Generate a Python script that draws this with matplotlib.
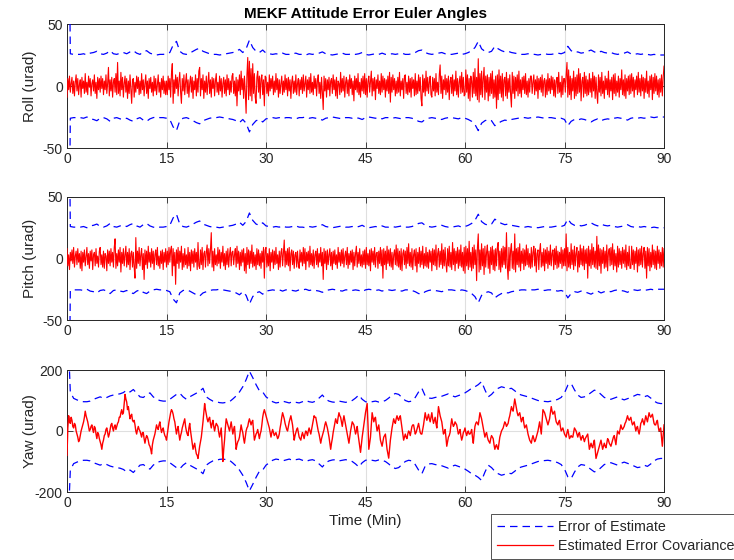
import numpy as np
import matplotlib
matplotlib.use("Agg")
import matplotlib.pyplot as plt
from matplotlib.lines import Line2D

# ---------------- data ----------------
title = "MEKF Attitude Error Euler Angles"
ylabels = ["Roll (urad)", "Pitch (urad)", "Yaw (urad)"]
xlabel = "Time (Min)"
legend_labels = ["Error of Estimate", "Estimated Error Covariance"]
xticks = [0, 15, 30, 45, 60, 75, 90]
yticks_rp = [-50, 0, 50]
yticks_yaw = [-200, 0, 200]

# roll / pitch / yaw attitude error samples, every 0.125 min from 0 to 90
roll_err = [
    -9, 6, -3, 8, -5, 2, 7, -6, 4, -8, 3, 9, -4, 6, -7, 1, 5, -9, 7, -2, 4, -6, 10, -5, 3, -7, 8, -1, 6, -8, 2, 5, -4, 9, -6, 3, -10, 7, -3, 6,
    -5, 8, -2, 6, -7, 4, -3, 9, -6, 2, 15, -8, 5, -4, 7, -9, 3, 6, -5, 10, -7, 19, -6, 4, -8, 11, -3, 7, -9, 2, 8, -5, 6, -10, 4, -6, 9, -2, -14, 5,
    6, -9, 3, -5, 8, -2, 7, -7, 4, -6, 10, -3, 5, -8, 2, 9, -6, 4, -10, 6, -2, 7, -5, 3, -8, 8, -4, 6, -7, 1, 9, -5, 3, -9, 6, -3, 8, -6, 4, -7,
    4, -7, 8, -3, 6, -9, 10, 18, -14, 5, -6, 9, -2, 7, -8, 4, 11, -5, -14, 6, -4, 9, -7, 3, 10, -6, 5, -9, 2, 8, -5, 7, -10, 4, -3, 9, -8, 6, -5, 12,
    15, -8, 6, -3, 9, -10, 4, -5, 8, -7, 3, 11, -6, 5, -9, 7, -2, 6, -8, 4, 10, -5, 3, -7, 8, -4, 6, -9, 2, 7, -6, 5, -8, 9, -3, 6, -7, 4, -5, 8,
    10, -6, 4, -8, 7, -16, 5, -4, 9, -7, 12, -3, 6, -10, 8, -5, -22, 9, 23, -11, 20, -8, 14, -12, 18, -6, 10, -9, -14, 7, 12, -5, 8, -10, 6, 9, -7, 5, -16, 8,
    7, -6, 3, -8, 9, -4, 6, -2, 8, -7, 4, -5, 10, -3, 6, -9, 5, -6, 2, 8, -7, 4, -5, 9, -3, 6, -8, 7, -4, 5, -10, 3, 8, -6, 4, -5, 9, -7, 2, 6,
    -8, 5, -3, 7, -6, 9, -4, 2, 8, -9, 5, -3, 7, -6, 10, -5, 3, -7, 8, -2, 6, -8, 4, 9, -6, 3, -10, 7, -5, -19, 8, -4, 6, -9, 5, -3, 7, -8, 4, 6,
    -6, 9, -3, 5, -8, 7, -10, 4, 2, -7, 11, -5, 6, -4, 8, -9, 3, 7, -6, 5, -8, 9, -2, 6, -7, 4, -12, 8, -3, 6, -5, 10, -7, 3, -9, 6, -4, 8, -6, 10,
    -7, 6, -9, 4, 8, -5, 3, 12, -8, 6, -4, 7, -11, 5, -2, 9, -6, 4, -7, 10, -5, 8, -3, 6, -9, 5, -4, 8, -6, 11, -13, 7, -5, 9, -3, 6, -8, 4, -6, 7,
    -5, 11, -8, 4, -3, 6, -10, 8, 9, -6, 3, -7, 8, -5, 6, -9, 7, -2, 5, -8, 10, -7, 4, -6, 9, -4, 7, -10, -16, 9, -5, 6, -8, 12, -4, 7, -6, 3, 8, -7,
    -9, 7, -4, 6, -8, 10, -5, 3, -7, 9, 17, -6, 8, -10, 5, -3, 9, -7, 6, -5, 8, -11, 4, 7, -6, 9, -8, 5, -4, 12, -7, 6, -9, 3, 8, -6, 11, -5, 7, -8,
    -7, 13, -5, 9, -10, 6, -12, 8, 4, -9, 11, -6, 14, -8, 7, -11, 22, -13, 10, -7, 12, -9, 6, 15, -11, 8, -5, 9, -12, 7, -8, 10, -6, 12, -10, 5, -9, 8, -18, 9,
    -11, 13, -6, 8, -9, 10, -12, 5, 7, -8, 11, -10, 6, -5, 9, -7, -17, 11, -6, 8, -10, 7, -4, 9, -8, 12, -6, 5, -9, 7, -3, 8, -6, 10, -7, 4, -9, 6, -5, 8,
    8, -6, 3, 9, -7, 5, -4, 8, -10, 6, -3, 7, -5, 9, -8, 4, 6, -9, 5, -7, 10, -4, 6, -6, 8, -3, 7, -8, 5, -9, 4, 7, -6, 11, -5, 3, -9, 8, -7, 6,
    6, -5, 9, 19, -9, 13, -7, 8, -11, 6, -4, 12, -10, 7, -8, 9, -6, 14, -5, 10, -12, 4, 7, -9, 11, -6, 8, -8, 5, -7, 10, -5, 6, -9, 11, -4, 8, -10, 7, -6,
    -14, 9, -5, 7, -8, 11, -6, 4, -10, 8, -3, 6, -7, 12, -9, 5, -4, 7, -11, 9, -6, 10, -8, 4, -5, 8, -9, 6, -3, 13, -7, 5, -8, 9, -10, 6, -4, 8, -7, 9,
    -6, 10, -4, 7, -9, 5, -3, 8, -7, 11, -5, 6, -8, 9, -4, 7, -10, 6, -5, 12, -6, 4, -9, 8, -3, 9, -11, 7, -6, 10, -4, 8, -7, 5, -9, 6, -5, 9, -8, 7,
    16,
]
pitch_err = [
    8, -6, 3, -9, 5, -2, 7, -4, 9, -7, 2, 6, -5, 8, -3, 4, -8, 6, -10, 5, -3, 7, -6, 2, 9, -5, 4, -8, 6, -2, 7, -9, 3, 5, -6, 8, -4, 2, -7, 6,
    9, -5, 3, -7, 6, -8, 4, 2, -10, 7, -4, 6, -6, 8, -3, 5, -7, 9, 16, -8, 4, -6, 7, -3, 9, -11, 5, -4, 8, -6, 3, 10, -7, 5, -5, 8, -9, 4, 6, -7,
    5, -7, -16, 17, -8, 6, -4, 9, -6, 3, 8, -9, 4, -17, 7, -5, 6, -8, 10, -3, 5, -7, 8, -4, 6, -9, 3, 7, -5, 9, -6, 2, -8, 6, -4, 7, -9, 5, -3, 8,
    -7, 6, -5, 9, -3, 7, 10, -14, 8, -6, 5, -21, 7, -4, 9, -8, 6, -3, 10, -9, 4, -7, 8, -5, 3, -8, 9, -6, 5, -10, 7, -4, 6, -7, 8, -3, 5, -9, 13, -6,
    -8, 7, -5, 9, -9, 4, 6, -7, 5, 11, -6, 8, -4, 7, 21, -7, 6, -10, 8, -5, 3, -6, 9, -4, 7, -8, 5, -3, 10, -6, 4, -9, 6, -5, 8, -7, 3, 9, -6, 5,
    6, -5, 3, 8, -7, 10, -4, 6, -9, 5, -6, 7, -3, 8, -10, 4, -12, 9, -5, 7, -8, 6, -4, 11, -7, 5, -6, 3, -9, 8, -5, 7, -6, 4, -8, 6, -3, 9, -16, 7,
    9, -7, 4, -6, 8, -10, 5, -3, 7, -8, 6, -5, 9, -4, 3, -9, 6, -7, 5, 8, -6, 4, 15, -7, 6, -5, 8, -6, 9, -10, 4, 7, -5, 6, -8, 3, 5, -7, 6, -4,
    -8, 7, -3, 5, -6, 9, -4, 8, -9, 5, -2, 6, -7, 10, -5, 4, -6, 7, -8, 3, 6, -5, 8, -7, 4, -3, 9, -6, 5, -17, 8, -4, 6, -9, 7, -5, 3, 8, -6, 5,
    -9, 6, -4, 7, -5, 3, -8, 9, -3, 5, -6, 7, -4, 8, -7, 2, 6, -5, 9, -8, 4, -5, 6, -3, 7, -9, 5, -6, 4, 10, -7, 5, -4, 8, -6, 3, -7, 6, -5, 7,
    -8, 9, -5, 4, -6, 7, -10, 8, -3, 6, -5, 9, -7, 4, 5, -8, 6, -4, 9, -6, 7, -16, 8, -5, 6, -9, 10, -4, 7, -6, 8, -7, 5, -9, 3, 7, -5, 11, -6, 8,
    -7, 6, -9, 8, -10, 4, 7, -5, 6, -8, 9, -4, 12, -6, 5, -7, 8, -9, 3, 7, -6, 8, -11, 5, -4, 9, -7, 6, -5, 10, -8, 4, -6, 9, -7, 5, -8, 7, -3, 6,
    -10, 8, -5, 7, -6, 11, -9, 4, 8, -7, 6, -5, 12, -8, 7, -6, 9, -4, -11, 8, -6, 10, -7, 5, -9, 13, -5, 8, -10, 6, -4, 9, -8, 7, -6, 11, -7, 5, -10, 9,
    -12, 10, -6, 8, -9, 14, -7, 5, -10, 9, -8, 11, -5, 7, -18, 9, 20, -11, 7, -9, 12, -6, 8, -13, 10, -7, 5, 11, -8, 6, -12, 9, -5, 10, -9, 7, -10, 8, -6, 9,
    13, -9, 6, -11, 8, -7, 10, -5, 9, -8, 21, -6, -17, 9, -10, 7, 12, -8, 6, -9, 20, -11, 8, -5, 9, -7, 12, -10, 6, -4, 8, -9, 7, -6, 11, -5, 8, -7, 4, -8,
    9, -7, 5, 10, -6, 8, -11, 4, 7, -9, 6, 12, -7, 5, -6, 8, -10, 7, -4, 9, -8, 6, -5, 11, -6, 4, 7, -9, 8, -5, 10, -8, 6, -7, 5, -4, 9, -8, 7, -6,
    8, -6, 20, -10, 9, -7, 5, -8, 12, -5, 7, -9, 10, -6, 4, 9, -11, 6, -7, 11, -5, 8, -6, 10, -9, 7, -4, 8, -16, 10, -6, 7, -8, 12, -5, 9, -7, 6, -8, 18,
    -9, 11, -6, 8, -12, 7, -4, 9, -8, 6, -7, 11, -10, 5, 8, -6, 9, -5, 12, -9, 7, -6, 4, -11, 10, -7, 8, -5, 6, -8, 9, -4, 7, -7, 11, -9, 5, -6, 10, -8,
    -8, 10, -5, 7, -9, 6, -4, 9, -11, 7, -6, 8, -5, 10, -7, 4, 9, -8, 6, -16, 9, -6, 8, -10, 5, -7, 11, -5, 7, -8, 6, -9, 10, -4, 7, -8, 5, -6, 9, -7,
    8,
]
yaw_err = [
    -80, 10, 50, 30, 25, 45, 35, 15, 10, 25, 20, 0, -10, -20, -35, -30, -15, 0, 10, 20, 30, 45, 65, 50, 40, 30, 15, 0, 5, 15, 20, 5, -5, 15, 10, -10, -25, -5, -10, -25,
    -35, -45, -60, -40, -30, -15, -10, 5, 10, -5, -20, -10, 5, 20, 25, 10, 0, 15, 20, 5, 15, 25, 30, 45, 45, 60, 70, 55, 60, 90, 120, 105, 95, 70, 80, 60, 40, 50, 55, 35,
    30, 35, 20, 0, -10, 5, 15, 5, 0, -10, -20, -5, -5, -25, -40, -25, -15, -20, -30, -45, -50, -60, -75, -45, -30, -20, -10, 5, 20, 10, 5, 20, 30, 10, -5, 5, 10, -5, -15, -20,
    -30, -10, 10, 30, 45, 60, 70, 65, 55, 40, 30, 10, -10, 5, 15, -10, -30, -15, -5, 10, 20, 30, 40, 15, 0, -10, -15, 10, 25, 0, -20, -40, -60, -50, -40, -60, -75, -80, -90, -70,
    -50, -35, -20, 5, 30, 60, 90, 70, 55, 40, 30, 40, 45, 25, 10, 25, 35, 15, 0, 15, 25, 20, 15, -5, -20, -5, 10, -40, -100, -60, -30, 10, 40, 30, 20, 10, 0, 15, 30, 10,
    -10, 5, 15, -25, -60, -45, -35, -30, -20, 0, 20, 5, -5, -25, -40, -20, 0, 10, 15, 30, 40, 30, 20, 30, 35, 0, -30, -20, -10, -5, 5, -10, -25, -10, 0, 20, 45, 60, 70, 60,
    50, 40, 30, 20, 10, -5, -20, -5, 5, -5, -15, -10, -5, -15, -25, -20, -10, 10, 25, 45, 60, 50, 40, 25, 15, 5, 0, 15, 30, 40, 50, 35, 20, -5, -30, -15, -5, 5, 10, -5,
    -20, -25, -30, -15, -5, -15, -25, -10, 0, -5, -15, 0, 10, 0, -10, 5, 20, 35, 50, 45, 45, 30, 15, 0, -10, -25, -40, -25, -15, -5, 5, 20, 30, 20, 10, -5, -20, -40, -60, -40,
    -25, -5, 10, 25, 40, 30, 25, 45, 60, 50, 45, 30, 15, 35, 50, 35, 20, 5, -10, -25, -40, -20, 0, 15, 30, 25, 20, 5, -10, 0, 15, -10, -30, -50, -70, -45, -20, 0, 20, 40,
    60, 75, 90, 20, -60, -40, -20, 20, 60, 45, 30, 40, 45, 20, 0, 10, 20, -5, -30, -40, -50, -35, -20, -15, -10, -35, -60, -75, -89, -60, -30, -10, 10, 25, 40, 30, 25, 40, 50, 40,
    35, 45, 50, 30, 10, -10, -30, -20, -10, -20, -25, -10, 0, -5, -15, 0, 15, 20, 20, 5, -10, -5, 5, 15, 25, 10, -5, -10, -10, 5, 20, 40, 60, 45, 35, 45, 55, 40, 30, 45,
    60, 40, 25, 35, 45, 25, 10, 45, 80, 65, 50, 40, 30, 10, -10, -5, 5, -20, -50, -35, -20, -15, -5, 20, 40, 25, 15, 20, 30, 25, 20, 5, -10, -5, 5, -15, -30, -20, -5, 0,
    10, -5, -15, -5, 0, -10, -10, -5, 5, -20, -40, -10, 15, 25, 30, 25, 20, 40, 60, 50, 40, 25, 10, -5, -20, -10, -5, -20, -30, -35, -40, -25, -15, -20, -25, -45, -60, -50, -45, -55,
    -60, -40, -20, -10, 0, 5, 10, 20, 30, 25, 15, 20, 25, 40, 50, 65, 80, 70, 65, 85, 105, 90, 75, 60, 50, 55, 60, 45, 30, 40, 45, 25, 10, 15, 20, 5, -10, -20, -30, -35,
    -40, -25, -15, -25, -35, -30, -20, -10, 0, 15, 30, 10, -10, 30, 70, 65, 60, 50, 40, 30, 20, 30, 40, 60, 80, 65, 55, 60, 65, 45, 30, 25, 20, 30, 35, 15, 0, 5, 10, 0,
    -10, -15, -20, -5, 5, -10, -25, -20, -15, -20, -20, -5, 10, 5, 0, -10, -20, -10, -5, -20, -30, -20, -15, -25, -35, -25, -20, -15, -10, -35, -60, -50, -40, -50, -55, -40, -30, -60, -90, -80,
    -70, -60, -50, -40, -30, -45, -60, -50, -40, -50, -55, -40, -25, -30, -40, -45, -50, -40, -30, -20, -15, -30, -45, -20, 0, -5, -10, 5, 20, 10, 5, 10, 15, 25, 30, 40, 50, 40, 35, 40,
    45, 30, 20, 25, 30, 15, 0, 10, 15, 0, -10, 5, 25, 30, 40, 30, 20, 35, 50, 40, 30, 45, 60, 50, 45, 50, 55, 40, 25, 20, 20, 30, 35, 15, 0, 5, 10, -20, -50, -15,
    20,
]

# covariance bound (upper; lower is its negative), every 0.5 min from 0 to 90
roll_pitch_bound = [
    300, 26, 25.5, 25.5, 25.5, 26, 25, 26.5, 27, 28, 26, 25.5, 26.5, 28.5, 26, 25.5, 26.5, 27, 26, 27.5,
    28.5, 26.5, 25.5, 27.5, 28.5, 26.5, 25.5, 25, 25.5, 25.5, 26, 27, 33, 36, 28, 26, 25.5, 26.5, 28, 29.5,
    30.5, 28, 27, 26, 25.5, 25.5, 25, 25.5, 26, 26.5, 27, 28, 29.5, 27, 30, 37, 31, 28, 27, 29,
    26.5, 26, 25.5, 26, 25.5, 26.5, 25.5, 25.5, 26, 26.5, 25.5, 25.5, 25, 26, 25.5, 26, 26.5, 27.5, 26, 25.5,
    25, 25.5, 26, 26.5, 25.5, 25.5, 26, 25.5, 26, 27, 25.5, 25, 25.5, 26, 25.5, 26.5, 25.5, 25.5, 26, 25.5,
    26, 26.5, 25.5, 25.5, 26, 27, 28.5, 29, 27, 26, 25.5, 26, 26.5, 27, 26, 25.5, 25.5, 26, 26.5, 25.5,
    26, 27, 28.5, 31, 36, 30, 28, 27, 28, 32, 30, 28.5, 27.5, 28, 27, 26.5, 26, 25.5, 25.5, 26,
    25.5, 25.5, 25, 25.5, 26, 25.5, 25.5, 26, 26.5, 26, 27, 32, 28.5, 27, 27.5, 26.5, 27, 28, 29, 27.5,
    26.5, 28, 27, 26.5, 27, 26, 25.5, 26, 26.5, 27.5, 26, 25.5, 26, 25.5, 26, 25.5, 25, 25.5, 25, 25,
    25,
]
yaw_bound = [
    400, 128, 107, 102, 98, 96, 96, 98, 104, 108, 112, 107, 110, 115, 118, 120, 122, 126, 134, 128,
    136, 124, 112, 110, 118, 125, 112, 104, 100, 98, 98, 104, 112, 120, 124, 112, 104, 112, 118, 124,
    130, 140, 112, 104, 98, 96, 93, 92, 94, 96, 105, 115, 128, 145, 168, 196, 175, 152, 132, 128,
    112, 104, 96, 92, 94, 98, 95, 92, 96, 94, 92, 96, 100, 96, 94, 98, 108, 118, 104, 98,
    95, 94, 98, 96, 94, 96, 100, 108, 118, 104, 96, 94, 96, 98, 95, 96, 100, 108, 118, 123,
    120, 110, 100, 96, 98, 110, 128, 140, 115, 108, 107, 110, 112, 114, 118, 122, 116, 112, 116, 120,
    125, 132, 140, 145, 152, 162, 135, 112, 120, 132, 140, 145, 142, 138, 140, 132, 122, 118, 115, 112,
    108, 104, 100, 98, 97, 96, 98, 100, 104, 110, 125, 150, 156, 135, 118, 110, 112, 118, 126, 134,
    130, 120, 110, 106, 104, 108, 112, 106, 102, 106, 110, 115, 120, 118, 112, 116, 108, 98, 92, 90,
    90,
]

# ---------------- styling ----------------
plt.rcParams["font.family"] = ["Liberation Sans", "DejaVu Sans"]
plt.rcParams["axes.unicode_minus"] = False
TXT = "#262626"
RED = "#ff0000"
BLUE = "#0000ff"
GRID = "#dfdfdf"

fig = plt.figure(figsize=(7.34, 5.6), dpi=100)
fig.patch.set_facecolor("white")

W = 734.0
H = 560.0
left = 67 / W
width = (664 - 67) / W
boxes = [(24, 148), (197, 320), (370, 492)]

series = [
    (roll_err, roll_pitch_bound, yticks_rp, 50, 0.8),
    (pitch_err, roll_pitch_bound, yticks_rp, 50, 0.8),
    (yaw_err, yaw_bound, yticks_yaw, 200, 1.0),
]

axes = []
for i, ((top, bot), (err, bound, yt, lim, lw)) in enumerate(zip(boxes, series)):
    ax = fig.add_axes([left, 1 - bot / H, width, (bot - top) / H])
    axes.append(ax)
    t_err = np.linspace(0, 90, len(err))
    t_b = np.linspace(0, 90, len(bound))
    b = np.asarray(bound, dtype=float)
    ax.plot(t_b, b, color=BLUE, lw=0.9, ls=(0, (6, 4)), zorder=3)
    ax.plot(t_b, -b, color=BLUE, lw=0.9, ls=(0, (6, 4)), zorder=3)
    ax.plot(t_err, err, color=RED, lw=lw, zorder=4)
    ax.set_xlim(0, 90)
    ax.set_ylim(-lim, lim)
    ax.set_xticks(xticks)
    ax.set_yticks(yt)
    ax.grid(True, color=GRID, lw=0.8, zorder=0)
    ax.set_axisbelow(True)
    ax.tick_params(direction="in", length=4, width=0.6, colors=TXT,
                   labelsize=10, top=True, right=True, pad=3)
    for sp in ax.spines.values():
        sp.set_color(TXT)
        sp.set_linewidth(0.7)
    ax.set_ylabel(ylabels[i], fontsize=11, color=TXT)
    ax.yaxis.set_label_coords(-0.05, 0.5)

axes[0].set_title(title, fontsize=11, fontweight="bold", color="black", pad=4)
axes[2].set_xlabel(xlabel, fontsize=11, color=TXT, labelpad=3)

handles = [
    Line2D([], [], color=BLUE, lw=0.9, ls=(0, (6, 4))),
    Line2D([], [], color=RED, lw=0.9),
]
leg = fig.legend(handles, legend_labels, loc="upper left",
                 bbox_to_anchor=(491 / W, 1 - 514 / H), bbox_transform=fig.transFigure,
                 fontsize=10.3, frameon=True, fancybox=False, edgecolor=TXT,
                 handlelength=3.9, handletextpad=0.3, borderpad=0.45,
                 labelspacing=0.3, borderaxespad=0)
leg.get_frame().set_linewidth(0.7)
for txt in leg.get_texts():
    txt.set_color(TXT)

fig.savefig("out.png", dpi=100)
